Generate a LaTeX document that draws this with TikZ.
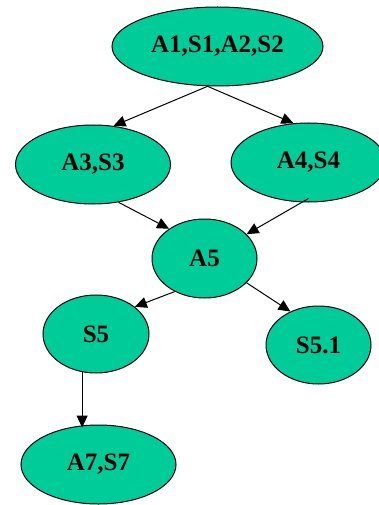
\documentclass[tikz,border=0pt]{standalone}
\usepackage{fontspec}
\setmainfont{Liberation Serif}
\usetikzlibrary{shapes.geometric,arrows.meta}
\definecolor{nodegreen}{RGB}{0,204,153}
\begin{document}
\begin{tikzpicture}[x=1pt,y=-1pt,
  state/.style={ellipse,draw=black,line width=1pt,fill=nodegreen,inner sep=0pt,
    font=\fontsize{25}{25}\selectfont\bfseries},
  link/.style={line width=1pt,-{Triangle[length=12pt,width=11pt]}}]
\useasboundingbox (0,0) rectangle (379,505);
\node[state,minimum width=211pt,minimum height=79pt] (top) at (217.5,46.5) {A1,S1,A2,S2};
\node[state,minimum width=155pt,minimum height=79pt] (a3) at (93,164.5) {A3,S3};
\node[state,minimum width=155pt,minimum height=79pt] (a4) at (308.5,162.5) {A4,S4};
\node[state,minimum width=105pt,minimum height=79pt] (a5) at (204.5,258.5) {A5};
\node[state,minimum width=106pt,minimum height=78pt] (s5) at (96,334) {S5};
\node[state,minimum width=105pt,minimum height=78pt] (s51) at (318.5,345) {S5.1};
\node[state,minimum width=155pt,minimum height=79pt] (a7) at (98.5,464.5) {A7,S7};
\draw[link] (top.256) -- (a3.62);
\draw[link] (top.256) -- (a4.111);
\draw[link] (a3.304) -- (a5.140);
\draw[link] ([yshift=4pt]a4.270) -- (a5.30);
\draw[link] (a5.228) -- (s5.35);
\draw[link] (a5.330) -- (s51.130);
\draw[link] (s5.250) -- ([yshift=-3pt]s5.250 |- a7.north);
\end{tikzpicture}
\end{document}
